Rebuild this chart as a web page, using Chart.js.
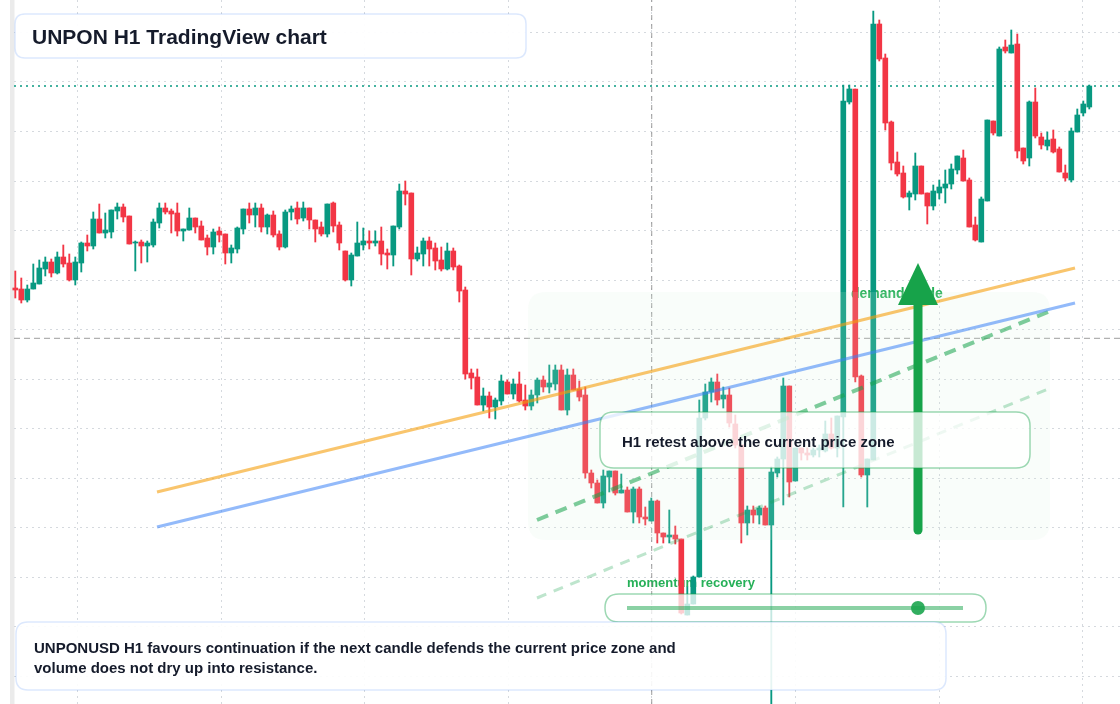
<!DOCTYPE html>
<html><head><meta charset="utf-8">
<script src="https://cdn.jsdelivr.net/npm/chart.js@4.4.1/dist/chart.umd.min.js"></script>
<style>html,body{margin:0;padding:0;background:#fff;overflow:hidden}canvas{display:block}</style>
</head><body>
<canvas id="c" width="1120" height="704" style="width:1120px;height:704px"></canvas>
<script>
// ---- Candle data (H1 candles, arbitrary price units) ----
const OPEN=[416,415,404,415,420,435,442,431,447,441, 424,441,461,458,485,471,472,493,497,488,
461,462,458,459,481,496,493,491,473,474, 486,478,466,457,473,470,451,455,475,495,
489,496,477,489,470,457,492,496,486,496, 484,477,470,501,479,453,424,448,459,463,
461,463,451,449,477,513,511,445,450,463, 456,444,435,453,438,414,331,327,299,308,
297,303,322,310,320,304,298,309,324,317, 320,334,294,329,315,309,231,221,201,227,
233,211,214,192,215,187,183,203,171,167, 169,165,89,100,127,286,312,322,305,309,
280,259,181,194,189,196,179,231,245,318, 223,256,251,249,254,253,270,256,287,602,
615,328,229,244,680,646,582,542,531,507, 510,538,511,498,511,516,520,534,546,524,
479,462,503,583,568,657,651,660,556,546, 602,567,558,565,555,531,524,572,591,597];
const CLOSE=[414,404,415,421,436,442,431,447,440,424, 442,461,458,485,471,474,494,497,487,460,
462,458,461,482,496,492,490,473,475,486, 477,464,457,472,469,451,456,476,495,489,
496,477,489,469,457,492,495,485,496,484, 475,470,500,478,461,424,449,461,463,461,
463,450,449,478,513,510,445,451,463,455, 443,435,453,437,413,330,326,299,308,297,
304,323,310,320,303,298,309,324,317,321, 334,294,329,314,307,231,221,201,228,233,
211,214,192,215,187,185,203,171,167,169, 165,91,100,127,286,312,322,304,309,281,
259,181,194,189,196,179,232,245,318,222, 256,251,249,254,256,270,256,288,603,615,
327,229,245,680,645,581,541,530,507,511, 538,510,498,513,517,520,535,548,523,477,
464,505,584,571,655,653,659,553,543,602, 568,559,564,552,532,526,573,589,600,618];
const HIGH=[433,426,419,440,444,447,445,452,459,450, 447,462,469,492,500,491,494,501,500,488,
463,464,463,485,501,501,495,501,475,496, 486,483,469,475,477,470,459,477,495,501,
501,500,490,493,473,494,498,502,502,496, 484,482,500,502,482,453,451,482,476,473,
473,477,455,478,520,523,511,457,466,467, 461,457,461,456,439,417,335,335,316,312,
306,329,324,325,332,319,314,326,328,339, 339,339,335,335,323,317,234,224,234,233,
233,230,217,217,217,197,206,204,171,194, 178,165,117,128,304,320,326,330,317,316,
289,259,198,198,198,198,237,247,326,318, 256,256,256,256,259,283,286,288,619,619,
615,329,245,693,684,650,583,552,538,513, 551,538,511,519,524,534,540,548,554,526,
487,507,584,583,657,664,674,670,556,603, 616,571,572,574,557,539,576,595,603,619];
const LOW=[406,401,402,415,420,428,427,430,437,423, 419,432,453,455,471,466,466,485,482,460,
433,441,442,457,476,490,471,468,463,474, 471,464,449,450,462,440,441,451,470,481,
477,472,470,467,454,456,484,480,483,475, 462,468,467,472,454,423,418,448,454,455,
458,439,435,438,475,499,429,443,438,438, 434,433,434,434,402,325,315,299,293,286,
285,299,310,305,302,294,294,301,312,311, 314,294,289,314,303,226,216,201,196,212,
209,211,192,181,181,179,183,161,161,161, 160,90,89,100,127,284,302,299,296,277,
256,161,169,181,180,179,-16,227,199,207, 223,244,244,247,247,252,255,247,197,600,
322,227,197,244,643,574,534,528,506,494, 504,510,480,494,505,501,515,530,523,477,
463,462,503,569,568,651,651,546,540,538, 566,555,554,551,532,523,522,572,588,595];

// grid tick positions (candle index units / price units)
const VGRID=[10.37,34.3,58.23,82.17,106.1,130.03,153.97,177.9];
const HGRID=[671.5,622,572.5,523,473.5,424,374.5,325,275.5,226,176.5,127,77.5,28];

// reference levels and drawings
const LAST_PRICE=618;
const CROSS_X=106.07, CROSS_Y=365.7;
const ORANGE_LINE=[{x:23.62,y:212},{x:176.62,y:436}];
const BLUE_LINE=[{x:23.62,y:177},{x:176.62,y:401}];
const GREEN_DASH=[{x:86.95,y:184},{x:172.12,y:392}];
const GREEN_DASH_LIGHT=[{x:86.95,y:106},{x:172.12,y:315}];
const ZONE={x0:85.45,x1:172.45,lo:164,hi:412};
const ARROW={x:150.45,from:174,to:441};
const MOMENTUM=0.866;

const X_MIN=-0.2167, X_MAX=184.117, Y_MIN=0, Y_MAX=704;
const UP='#089981', DOWN='#f23645';
const idx=OPEN.map((_,i)=>i);
const colors=idx.map(i=>CLOSE[i]>=OPEN[i]?UP:DOWN);

Chart.defaults.font.family="'Liberation Sans', Arial, sans-serif";

function rrect(c,x,y,w,h,r){c.beginPath();c.moveTo(x+r,y);c.lineTo(x+w-r,y);c.quadraticCurveTo(x+w,y,x+w,y+r);
c.lineTo(x+w,y+h-r);c.quadraticCurveTo(x+w,y+h,x+w-r,y+h);c.lineTo(x+r,y+h);c.quadraticCurveTo(x,y+h,x,y+h-r);
c.lineTo(x,y+r);c.quadraticCurveTo(x,y,x+r,y);c.closePath();}

const BODY_IDX=2;
const overlay={
  id:'overlay',
  beforeDraw(chart){const c=chart.ctx;c.save();c.fillStyle='#fff';c.fillRect(0,0,chart.width,chart.height);
    c.fillStyle='#ebebeb';c.fillRect(10,0,4.5,chart.height);c.restore();},
  beforeDatasetsDraw(chart){const c=chart.ctx;c.save();c.textBaseline='middle';c.fillStyle='rgb(38,176,88)';
    c.font="bold 14px 'Liberation Sans', Arial, sans-serif";c.fillText('demand trade',851,294.5);
    c.font="bold 13px 'Liberation Sans', Arial, sans-serif";c.fillText('momentum recovery',627,583);
    c.restore();},
  afterDatasetDraw(chart,args){
    if(args.index!==BODY_IDX)return;
    const c=chart.ctx,xs=chart.scales.x,ys=chart.scales.y;
    const x0=xs.getPixelForValue(ZONE.x0),x1=xs.getPixelForValue(ZONE.x1),y0=ys.getPixelForValue(ZONE.hi),y1=ys.getPixelForValue(ZONE.lo);
    c.save();rrect(c,x0,y0,x1-x0,y1-y0,18);c.fillStyle='rgba(215,242,224,0.15)';c.fill();c.restore();
  },
  afterDatasetsDraw(chart){
    const c=chart.ctx,xs=chart.scales.x,ys=chart.scales.y;
    c.save();
    // arrow
    const ax=xs.getPixelForValue(ARROW.x),ay0=ys.getPixelForValue(ARROW.from),ay1=ys.getPixelForValue(ARROW.to);
    const headH=42,headW=20;
    c.strokeStyle='#17a34a';c.fillStyle='#17a34a';c.lineWidth=9;c.lineCap='round';
    c.beginPath();c.moveTo(ax,ay0);c.lineTo(ax,ay1+headH-2);c.stroke();
    c.beginPath();c.moveTo(ax,ay1);c.lineTo(ax+headW,ay1+headH);c.lineTo(ax-headW,ay1+headH);c.closePath();c.fill();
    // retest box
    rrect(c,600,412,430,56,14);c.fillStyle='rgba(255,255,255,0.76)';c.fill();
    c.lineWidth=1.5;c.strokeStyle='rgba(22,163,74,0.42)';c.stroke();
    c.fillStyle='#151b2b';c.textBaseline='middle';c.font="bold 15px 'Liberation Sans', Arial, sans-serif";
    c.fillText('H1 retest above the current price zone',622,442.5);
    // momentum pill
    rrect(c,605,594,381,28,14);c.fillStyle='rgba(255,255,255,0.76)';c.fill();
    c.lineWidth=1.5;c.strokeStyle='rgba(22,163,74,0.42)';c.stroke();
    c.beginPath();c.moveTo(627,608);c.lineTo(963,608);c.lineWidth=4;c.lineCap='butt';c.strokeStyle='rgba(22,163,74,0.5)';c.stroke();
    c.beginPath();c.arc(627+(963-627)*MOMENTUM,608,7,0,Math.PI*2);c.fillStyle='rgba(22,163,74,0.88)';c.fill();
    // bottom note
    rrect(c,16,622,930,68,12);c.fillStyle='rgba(255,255,255,0.9)';c.fill();
    c.lineWidth=1.5;c.strokeStyle='rgba(59,130,246,0.18)';c.stroke();
    c.fillStyle='#151b2b';c.font="bold 15px 'Liberation Sans', Arial, sans-serif";
    c.fillText('UNPONUSD H1 favours continuation if the next candle defends the current price zone and',34,648.5);
    c.fillText('volume does not dry up into resistance.',34,668.5);
    // title
    rrect(c,15,14,511,44,10);c.fillStyle='rgba(255,255,255,0.95)';c.fill();
    c.lineWidth=1.5;c.strokeStyle='rgba(59,130,246,0.18)';c.stroke();
    c.fillStyle='#151b2b';c.font="bold 21px 'Liberation Sans', Arial, sans-serif";
    c.fillText('UNPON H1 TradingView chart',32,38);
    c.restore();
  }
};

const lineDs=(data,color,width,dash,order)=>({type:'line',data,borderColor:color,borderWidth:width,borderDash:dash||[],
  pointRadius:0,fill:false,order,clip:false,tension:0});

new Chart(document.getElementById('c'),{
  type:'bar',
  data:{datasets:[
    lineDs([{x:X_MIN,y:LAST_PRICE},{x:X_MAX,y:LAST_PRICE}],UP,1.5,[2,4],20),
    lineDs([{x:CROSS_X,y:Y_MIN},{x:CROSS_X,y:Y_MAX}],'rgba(140,140,140,0.85)',1,[5,4],20),
    {type:'bar',data:idx.map(i=>({x:i,y:[OPEN[i],CLOSE[i]]})),backgroundColor:colors,barThickness:5,minBarLength:1,grouped:false,borderWidth:0,order:14,clip:false},
    {type:'bar',data:idx.map(i=>({x:i,y:[LOW[i],HIGH[i]]})),backgroundColor:colors,barThickness:1.2,grouped:false,borderWidth:0,order:15,clip:false},
    lineDs([{x:X_MIN,y:CROSS_Y},{x:X_MAX,y:CROSS_Y}],'rgba(140,140,140,0.85)',1,[6,4],20),
    lineDs(ORANGE_LINE,'rgba(245,158,11,0.6)',3,[],5),
    lineDs(BLUE_LINE,'rgba(59,130,246,0.55)',3,[],5),
    lineDs(GREEN_DASH,'rgba(22,163,74,0.55)',4,[12,8],5),
    lineDs(GREEN_DASH_LIGHT,'rgba(22,163,74,0.28)',3,[10,8],5)
  ]},
  options:{
    responsive:false,animation:false,devicePixelRatio:1,
    layout:{padding:{left:14,right:0,top:0,bottom:0}},
    plugins:{legend:{display:false},tooltip:{enabled:false}},
    scales:{
      x:{type:'linear',min:X_MIN,max:X_MAX,offset:false,ticks:{display:false},
        grid:{offset:false,color:'#d5d9de',lineWidth:1,drawTicks:false},border:{display:false,dash:[2,4]},
        afterBuildTicks:s=>{s.ticks=VGRID.map(v=>({value:v}));},afterFit:s=>{s.height=0;}},
      y:{min:Y_MIN,max:Y_MAX,ticks:{display:false},
        grid:{color:'#d5d9de',lineWidth:1,drawTicks:false},border:{display:false,dash:[2,4]},
        afterBuildTicks:s=>{s.ticks=HGRID.map(v=>({value:v}));},afterFit:s=>{s.width=0;}}
    }
  },
  plugins:[overlay]
});
</script></body></html>
